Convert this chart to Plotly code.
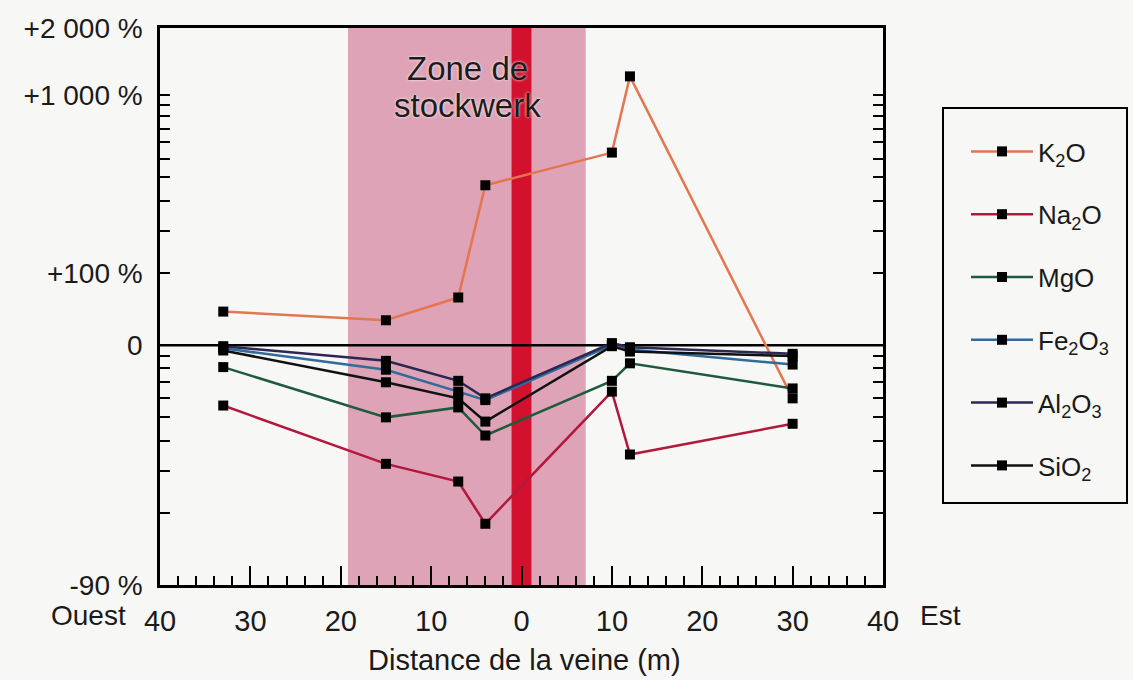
import plotly.graph_objects as go
import math

# ---- data ----
distance = [-33, -15, -7, -4, 10, 12, 30]          # m (west negative, east positive)
k2o   = [38, 27, 58, 364, 535, 1220, -40]           # % change
na2o  = [-44, -68, -73, -82, -36, -65, -53]
mgo   = [-19, -50, -45, -58, -29, -16, -34]
fe2o3 = [-3, -21, -36, -41, 0, -4, -17]
al2o3 = [-1, -14, -29, -40, 2, -2, -8]
sio2  = [-5, -30, -40, -52, -1, -6, -10]

series_names = ["K<sub>2</sub>O", "Na<sub>2</sub>O", "MgO",
                "Fe<sub>2</sub>O<sub>3</sub>", "Al<sub>2</sub>O<sub>3</sub>", "SiO<sub>2</sub>"]
series_vals = [k2o, na2o, mgo, fe2o3, al2o3, sio2]
series_colors = ["#e5754f", "#b3173c", "#1f5a3d", "#2f6c9c", "#2b2752", "#111111"]

x_tickvals = [-40, -30, -20, -10, 0, 10, 20, 30, 40]
x_ticktext = ["40", "30", "20", "10", "0", "10", "20", "30", "40"]
y_tick_pct = [-90, 0, 100, 1000, 2000]
y_tick_text = ["-90 %", "0", "+100 %", "+1 000 %", "+2 000 %"]
y_minor_pct = [-80, -70, -60, -50, -40, -30, -20, -10,
               200, 300, 400, 500, 600, 700, 800, 900]

zone_x = [-19.2, 7.1]
vein_x = [-1.1, 1.1]

FONT = "Liberation Sans, Arial, Helvetica, sans-serif"
TXT = "#1a1a1a"
BG = "#f7f7f5"

def ratio(p):
    return 1 + p / 100.0

W, H = 1133, 680
L, R, T, B = 160, 250, 28, 95
pw, ph = W - L - R, H - T - B
def px2paper_x(px): return (px - L) / pw
def py2paper_y(py): return (H - B - py) / ph

fig = go.Figure()

# zero reference line
fig.add_trace(go.Scatter(x=[-40, 40], y=[1, 1], mode="lines",
                         line=dict(color="black", width=2.5),
                         showlegend=False, hoverinfo="skip"))

for i, (name, vals, col) in enumerate(zip(series_names, series_vals, series_colors)):
    fig.add_trace(go.Scatter(
        x=distance, y=[ratio(v) for v in vals], name=name,
        mode="lines+markers", legendgroup="g%d" % i,
        line=dict(color=col, width=2.5),
        marker=dict(symbol="square", size=10, color="black"),
    ))

ymin = math.log10(ratio(-90))
ymax = math.log10(ratio(2000))

shapes = [
    dict(type="rect", xref="x", yref="paper", x0=zone_x[0], x1=zone_x[1], y0=0, y1=1,
         fillcolor="#dea3b6", line=dict(width=0), layer="below"),
    dict(type="rect", xref="x", yref="paper", x0=vein_x[0], x1=vein_x[1], y0=0, y1=1,
         fillcolor="#d3112e", line=dict(width=0), layer="below"),
    # legend frame
    dict(type="rect", xref="paper", yref="paper",
         x0=px2paper_x(943), x1=px2paper_x(1127), y0=py2paper_y(503), y1=py2paper_y(108),
         fillcolor="rgba(0,0,0,0)", line=dict(color="black", width=2)),
]

zone_font = dict(family=FONT, size=33, color="#1c1c1c", shadow="0px 0px 3px white")
annotations = [
    dict(text="Zone de", x=-6, xref="x", y=py2paper_y(68), yref="paper", yanchor="middle",
         showarrow=False, font=zone_font),
    dict(text="stockwerk", x=-6, xref="x", y=py2paper_y(105), yref="paper", yanchor="middle",
         showarrow=False, font=zone_font),
    dict(text="Ouest", x=px2paper_x(88), y=py2paper_y(615), xref="paper", yref="paper",
         xanchor="center", yanchor="middle",
         showarrow=False, font=dict(family=FONT, size=28, color=TXT)),
    dict(text="Est", x=px2paper_x(940), y=py2paper_y(615), xref="paper", yref="paper",
         xanchor="center", yanchor="middle",
         showarrow=False, font=dict(family=FONT, size=28, color=TXT)),
    dict(text="Distance de la veine (m)", x=px2paper_x(524), y=py2paper_y(660),
         xref="paper", yref="paper", xanchor="center", yanchor="middle",
         showarrow=False, font=dict(family=FONT, size=29, color=TXT)),
]

fig.update_layout(
    width=W, height=H,
    margin=dict(l=L, r=R, t=T, b=B),
    paper_bgcolor=BG, plot_bgcolor=BG,
    font=dict(family=FONT, size=26, color=TXT),
    shapes=shapes, annotations=annotations,
    showlegend=True,
    legend=dict(x=px2paper_x(966), y=py2paper_y(128), xanchor="left", yanchor="top",
                bgcolor="rgba(0,0,0,0)", borderwidth=0, tracegroupgap=26,
                font=dict(family=FONT, size=26, color=TXT), itemwidth=62),
    xaxis=dict(range=[-40, 40], tickmode="array", tickvals=x_tickvals, ticktext=x_ticktext,
               ticks="inside", ticklen=19, tickwidth=2, tickcolor="black",
               showline=True, linecolor="black", linewidth=2.5, mirror=True,
               showgrid=False, zeroline=False, ticklabelstandoff=8,
               tickfont=dict(family=FONT, size=29, color=TXT),
               minor=dict(dtick=2, tick0=0, ticks="inside", ticklen=9, tickwidth=2,
                          tickcolor="black", showgrid=False)),
    yaxis=dict(type="log", range=[ymin, ymax], tickmode="array",
               tickvals=[ratio(p) for p in y_tick_pct], ticktext=y_tick_text,
               ticks="inside", ticklen=10, tickwidth=2, tickcolor="black",
               showline=True, linecolor="black", linewidth=2.5, mirror="ticks",
               showgrid=False, zeroline=False, ticklabelstandoff=9,
               tickfont=dict(family=FONT, size=28, color=TXT),
               minor=dict(tickmode="array", tickvals=[ratio(p) for p in y_minor_pct],
                          ticks="inside", ticklen=10, tickwidth=2, tickcolor="black",
                          showgrid=False)),
)

fig.write_html("out.html",
               config={"displayModeBar": False},
               post_script="document.body.style.margin='0px';"
                           "document.body.style.background='%s';" % BG)
